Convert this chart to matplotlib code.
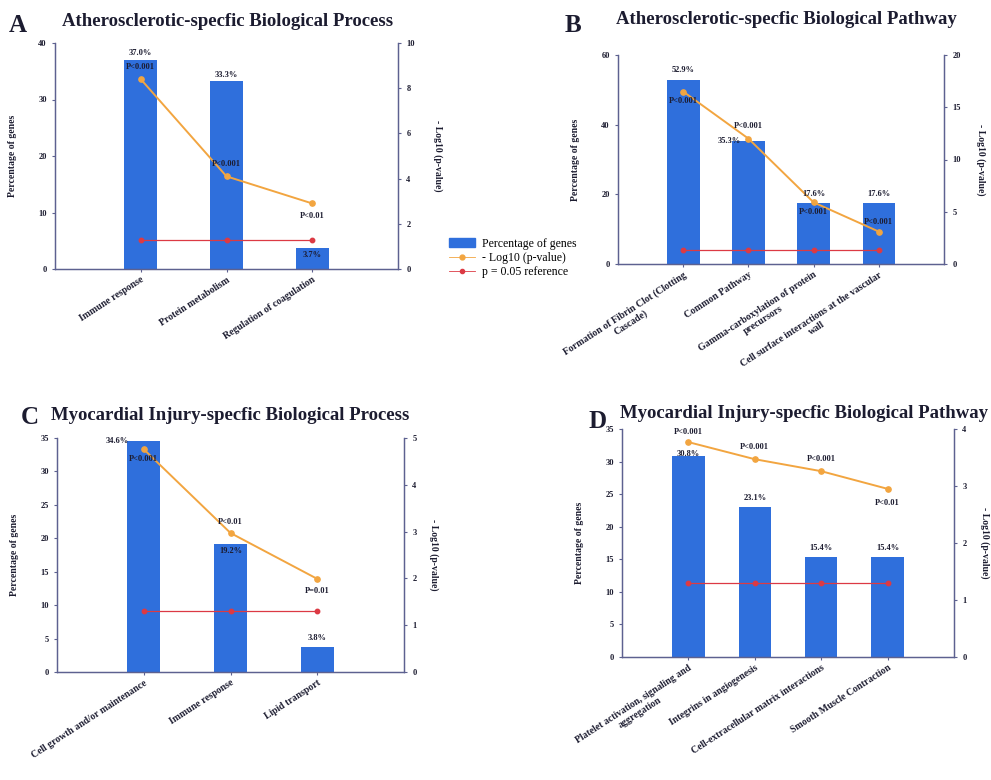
import numpy as np
import matplotlib
matplotlib.use('Agg')
import matplotlib.pyplot as plt
from matplotlib.patches import Patch
from matplotlib.lines import Line2D

# ------------------------------ data ------------------------------
cats_a = ['Immune response', 'Protein metabolism', 'Regulation of coagulation']
pct_a = [37.0, 33.3, 3.7]
logp_a = [8.4, 4.1, 2.9]
plab_a = ['P<0.001', 'P<0.001', 'P<0.01']

cats_b = ['Formation of Fibrin Clot (Clotting\nCascade)', 'Common Pathway',
          'Gamma-carboxylation of protein\nprecursors',
          'Cell surface interactions at the vascular\nwall']
pct_b = [52.9, 35.3, 17.6, 17.6]
logp_b = [16.5, 12.0, 5.9, 3.1]
plab_b = ['P<0.001', 'P<0.001', 'P<0.001', 'P<0.001']

cats_c = ['Cell growth and/or maintenance', 'Immune response', 'Lipid transport']
pct_c = [34.6, 19.2, 3.8]
logp_c = [4.76, 2.97, 1.99]
plab_c = ['P<0.001', 'P<0.01', 'P=0.01']

cats_d = ['Platelet activation, signaling and\naggregation', 'Integrins in angiogenesis',
          'Cell-extracellular matrix interactions', 'Smooth Muscle Contraction']
pct_d = [30.8, 23.1, 15.4, 15.4]
logp_d = [3.77, 3.47, 3.26, 2.95]
plab_d = ['P<0.001', 'P<0.001', 'P<0.001', 'P<0.01']

ref_val = 1.3  # -log10(0.05)

# ------------------------------ style ------------------------------
plt.rcParams['font.family'] = ['Liberation Serif', 'DejaVu Serif']
BLUE = '#2f6fdc'
ORANGE = '#f2a540'
RED = '#dc3a44'
SPINE = '#5d6190'
TXT = '#1c1c30'

W, H = 991, 780
fig = plt.figure(figsize=(W / 100, H / 100), dpi=100)


def rect(x0, x1, ytop, ybot):
    return [x0 / W, 1 - ybot / H, (x1 - x0) / W, (ybot - ytop) / H]


def panel(r, cats, pct, logp, plab, lmax, lstep, rmax, rstep, bw,
          pct_pos, p_pos, rlab_pad, title, title_x, title_y, letter, letter_x, letter_y):
    ax = fig.add_axes(r)
    x = np.arange(len(cats))
    ax.bar(x, pct, width=bw, color=BLUE, zorder=1)
    ax.set_xlim(-1, len(cats))
    ax.set_ylim(0, lmax)
    ax.set_yticks(np.arange(0, lmax + 0.1, lstep))
    ax.set_xticks(x)
    ax.set_xticklabels(cats, rotation=33, ha='right', rotation_mode='anchor',
                       fontsize=7, fontweight='bold', color=TXT,
                       multialignment='center')
    ax.tick_params(axis='y', labelsize=6, length=2.5, color=SPINE, labelcolor=TXT)
    ax.tick_params(axis='x', length=2.5, color=SPINE, pad=2)
    for lbl in ax.get_yticklabels():
        lbl.set_fontweight('bold')
    ax.set_ylabel('Percentage of genes', fontsize=7, fontweight='bold', color=TXT)
    ax.yaxis.set_label_coords(-38 / (r[2] * W), 0.5)

    ax2 = ax.twinx()
    ax2.plot(x, logp, color=ORANGE, marker='o', markersize=3.8, lw=1.4, zorder=3)
    ax2.plot(x, [ref_val] * len(x), color=RED, marker='o', markersize=3.2, lw=0.9, zorder=3)
    ax2.set_ylim(0, rmax)
    ax2.set_yticks(np.arange(0, rmax + 0.01, rstep))
    ax2.tick_params(axis='y', labelsize=6, length=2.5, color=SPINE, labelcolor=TXT)
    for lbl in ax2.get_yticklabels():
        lbl.set_fontweight('bold')
    ax2.set_ylabel('- Log10 (p-value)', fontsize=7, fontweight='bold', color=TXT,
                   rotation=270, va='center')
    ax2.yaxis.set_label_coords(1 + rlab_pad / (r[2] * W), 0.5)

    for a in (ax, ax2):
        a.spines['top'].set_visible(False)
        for s in ('left', 'right', 'bottom'):
            a.spines[s].set_color(SPINE)
            a.spines[s].set_linewidth(0.9)

    # percentage labels
    for i, v in enumerate(pct):
        dx, dy = pct_pos[i]
        ax2.annotate('%.1f%%' % v, (i, v / lmax * rmax), xytext=(dx, dy),
                     textcoords='offset points', ha='center', va='center',
                     fontsize=6, fontweight='bold', color=TXT, zorder=5)
    # p-value labels
    for i, s in enumerate(plab):
        ax2.annotate(s, (i, logp[i]), xytext=(0, p_pos[i]),
                     textcoords='offset points', ha='center', va='center',
                     fontsize=6, fontweight='bold', color=TXT, zorder=5)

    fig.text(title_x / W, 1 - title_y / H, title, fontsize=13.5, fontweight='bold',
             color=TXT, ha='center', va='center')
    fig.text(letter_x / W, 1 - letter_y / H, letter, fontsize=18, fontweight='bold',
             color=TXT, ha='center', va='center')
    return ax


panel(rect(55, 398, 43, 269), cats_a, pct_a, logp_a, plab_a, 40, 10, 10, 2, 0.38,
      [(0, 5), (0, 4), (0, -5)], [9, 9, -9], 40,
      'Atherosclerotic-specfic Biological Process', 228, 22, 'A', 18, 25)

panel(rect(618, 944, 55, 264), cats_b, pct_b, logp_b, plab_b, 60, 20, 20, 5, 0.5,
      [(0, 7), (-14, 0), (0, 6), (0, 6)], [-7, 9, -7, 7], 37,
      'Atherosclerotic-specfic Biological Pathway', 786, 20, 'B', 573, 25)

panel(rect(57, 404, 438, 672), cats_c, pct_c, logp_c, plab_c, 35, 5, 5, 1, 0.38,
      [(-19, 0), (0, -5), (0, 6)], [-7, 8, -9], 30,
      'Myocardial Injury-specfic Biological Process', 230, 416, 'C', 30, 418)

panel(rect(622, 954, 429, 657), cats_d, pct_d, logp_d, plab_d, 35, 5, 4, 1, 0.49,
      [(0, 2), (0, 6), (0, 6), (0, 6)], [7, 9, 9, -10], 31,
      'Myocardial Injury-specfic Biological Pathway', 804, 413, 'D', 598, 422)

handles = [Patch(facecolor=BLUE, edgecolor=BLUE),
           Line2D([], [], color=ORANGE, marker='o', markersize=3.5, lw=0.6),
           Line2D([], [], color=RED, marker='o', markersize=3, lw=0.6)]
fig.legend(handles, ['Percentage of genes', '- Log10 (p-value)', 'p = 0.05 reference'],
           loc='upper left', bbox_to_anchor=(444 / W, 1 - 233 / H), frameon=False,
           fontsize=8.5, handlelength=2.2, handletextpad=0.6, labelspacing=0.2,
           borderaxespad=0)

fig.savefig('out.png', dpi=100)
